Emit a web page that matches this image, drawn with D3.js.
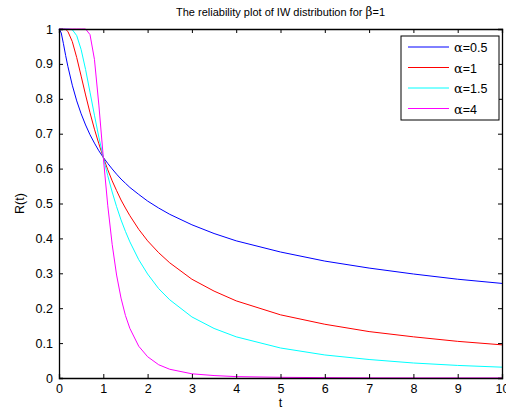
<!DOCTYPE html>
<html>
<head>
<meta charset="utf-8">
<script src="https://cdn.jsdelivr.net/npm/d3@7/dist/d3.min.js"></script>
<style>
  body { margin: 0; background: #fff; }
  svg text { font-family: "Liberation Sans", Arial, sans-serif; font-size: 11px; fill: #000; }
</style>
</head>
<body>
<script>
var tVals = [0, 0.05, 0.1, 0.15, 0.2, 0.3, 0.4, 0.5, 0.6, 0.7, 0.8, 0.9, 1.0,
             1.1, 1.2, 1.3, 1.4, 1.5, 1.6, 1.8, 2.0, 2.25, 2.5, 3, 3.5, 4,
             5, 6, 7, 8, 9, 10];

// R(t) for each alpha
var rAlpha05 = [1, 0.989, 0.958, 0.924, 0.893, 0.839, 0.794, 0.757, 0.725, 0.697, 0.673, 0.651, 0.632,
                0.615, 0.599, 0.584, 0.570, 0.558, 0.546, 0.526, 0.507, 0.487, 0.469, 0.439, 0.414, 0.393,
                0.361, 0.335, 0.315, 0.298, 0.283, 0.271];
var rAlpha1 = [1, 1, 1, 0.999, 0.993, 0.964, 0.918, 0.865, 0.811, 0.760, 0.713, 0.671, 0.632,
               0.597, 0.565, 0.537, 0.510, 0.487, 0.465, 0.426, 0.393, 0.359, 0.330, 0.283, 0.249, 0.221,
               0.181, 0.154, 0.133, 0.118, 0.105, 0.095];
var rAlpha15 = [1, 1, 1, 1, 1, 0.998, 0.981, 0.941, 0.884, 0.819, 0.753, 0.690, 0.632,
                0.580, 0.533, 0.491, 0.453, 0.420, 0.390, 0.339, 0.298, 0.256, 0.224, 0.175, 0.142, 0.118,
                0.086, 0.066, 0.053, 0.043, 0.036, 0.031];
var rAlpha4 = [1, 1, 1, 1, 1, 1, 1, 1, 1, 0.984, 0.913, 0.782, 0.632,
               0.495, 0.383, 0.295, 0.229, 0.179, 0.142, 0.091, 0.061, 0.038, 0.025, 0.012, 0.007, 0.004,
               0.002, 0.001, 0.0004, 0.0002, 0.0002, 0.0001];

var seriesNames = ["=0.5", "=1", "=1.5", "=4"];
var seriesColors = ["#0000ff", "#ff0000", "#00ffff", "#ff00ff"];
var seriesData = [rAlpha05, rAlpha1, rAlpha15, rAlpha4];

var xTicks = [0, 1, 2, 3, 4, 5, 6, 7, 8, 9, 10];
var yTicks = [0, 0.1, 0.2, 0.3, 0.4, 0.5, 0.6, 0.7, 0.8, 0.9, 1];

var W = 506, H = 410;
var margin = {top: 29, right: 4, bottom: 32, left: 59},
    width = W - margin.left - margin.right,
    height = H - margin.top - margin.bottom;

var x = d3.scaleLinear().domain([0, 10]).range([0, width]);
var y = d3.scaleLinear().domain([0, 1]).range([height, 0]);

var svg = d3.select("body").append("svg")
    .attr("width", W)
    .attr("height", H);

var g = svg.append("g")
    .attr("transform", "translate(" + margin.left + "," + margin.top + ")");

// curves
var line = d3.line()
    .x(function(d, i) { return x(tVals[i]); })
    .y(function(d) { return y(d); });

seriesData.forEach(function(s, k) {
  g.append("path")
      .datum(s)
      .attr("fill", "none")
      .attr("stroke", seriesColors[k])
      .attr("stroke-width", 1)
      .attr("d", line);
});

// axes, MATLAB style: ticks inside on all four sides
var fmt = function(d) { return d3.format("")(+d.toFixed(1)); };
var tick = 4;

g.append("g")
    .attr("transform", "translate(0," + height + ")")
    .call(d3.axisBottom(x).tickValues(xTicks).tickSize(-tick).tickPadding(tick + 2).tickFormat(fmt));
g.append("g")
    .call(d3.axisTop(x).tickValues(xTicks).tickSize(-tick).tickFormat(""));
g.append("g")
    .call(d3.axisLeft(y).tickValues(yTicks).tickSize(-tick).tickPadding(tick + 2).tickFormat(fmt));
g.append("g")
    .attr("transform", "translate(" + width + ",0)")
    .call(d3.axisRight(y).tickValues(yTicks).tickSize(-tick).tickFormat(""));

g.selectAll(".domain").attr("stroke", "#000").attr("stroke-width", 1.3);
g.selectAll(".tick line").attr("stroke", "#000");
g.selectAll(".tick text").style("font-size", "12.5px");

// title
var title = svg.append("text")
    .attr("x", margin.left + width / 2)
    .attr("y", 16)
    .style("text-anchor", "middle");
title.append("tspan").text("The reliability plot of IW distribution for ");
title.append("tspan").style("font-family", "'DejaVu Serif', serif").style("font-size", "12px").text("β");
title.append("tspan").text("=1");

// axis labels
svg.append("text")
    .attr("x", margin.left + width / 2)
    .attr("y", 407)
    .style("text-anchor", "middle")
    .style("font-size", "12.5px")
    .text("t");

svg.append("text")
    .attr("transform", "translate(24," + (margin.top + height / 2) + ") rotate(-90)")
    .style("text-anchor", "middle")
    .style("font-size", "12.5px")
    .text("R(t)");

// legend
var lg = svg.append("g").attr("transform", "translate(401,36)");
lg.append("rect")
    .attr("width", 98)
    .attr("height", 84)
    .attr("fill", "#fff")
    .attr("stroke", "#000")
    .attr("stroke-width", 1);

seriesNames.forEach(function(name, k) {
  var yy = 11 + k * 20.5;
  lg.append("line")
      .attr("x1", 7).attr("x2", 48)
      .attr("y1", yy).attr("y2", yy)
      .attr("stroke", seriesColors[k]);
  var t = lg.append("text")
      .attr("x", 53)
      .attr("y", yy + 5)
      .style("font-size", "12.5px");
  t.append("tspan").style("font-family", "'DejaVu Serif', serif").style("font-size", "13px").text("α");
  t.append("tspan").text(name);
});
</script>
</body>
</html>
